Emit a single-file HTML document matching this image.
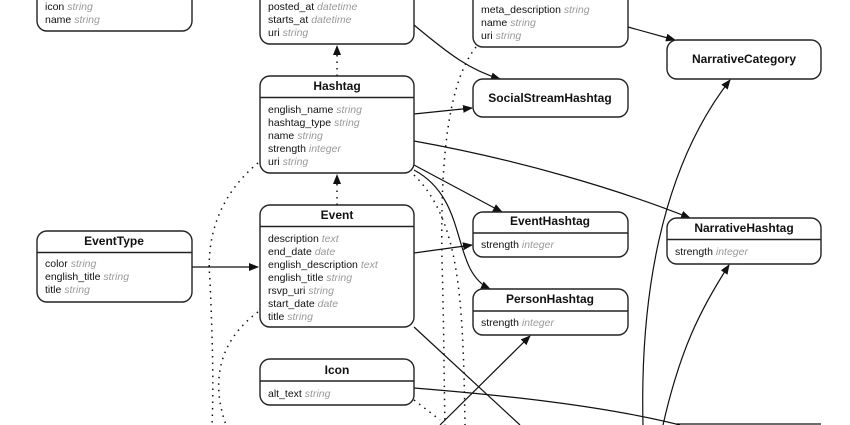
<!DOCTYPE html>
<html><head><style>
html,body{margin:0;background:#fff;width:850px;height:425px;overflow:hidden}
svg{display:block;font-family:"Liberation Sans",sans-serif}
.b{fill:#fff;stroke:#222;stroke-width:1.4}
.t{font-weight:bold;font-size:12px;text-anchor:middle;fill:#111}
.r{font-size:10.5px;fill:#111}
.g{fill:#999;font-style:italic}
.e{fill:none;stroke:#111;stroke-width:1.2}
.d{fill:none;stroke:#111;stroke-width:1.5;stroke-dasharray:1.5 5}
</style></head><body>
<svg width="850" height="425" viewBox="0 0 850 425">
<defs><marker id="a" markerWidth="10" markerHeight="8" refX="9" refY="4" orient="auto" markerUnits="userSpaceOnUse"><path d="M0,0L10,4L0,8z" fill="#111"/></marker></defs>
<path class="d" d="M337,76V46" marker-end="url(#a)"/>
<path class="d" d="M337,205V175" marker-end="url(#a)"/>
<path class="e" d="M192,267H258" marker-end="url(#a)"/>
<path class="e" d="M414,25C450,55 470,70 500,79" marker-end="url(#a)"/>
<path class="e" d="M414,114L472,108" marker-end="url(#a)"/>
<path class="e" d="M628,27L675,40" marker-end="url(#a)"/>
<path class="e" d="M414,141C520,160 620,190 690,218" marker-end="url(#a)"/>
<path class="e" d="M414,165L502,212" marker-end="url(#a)"/>
<path class="e" d="M414,170C470,200 450,270 490,289" marker-end="url(#a)"/>
<path class="e" d="M414,253L472,245" marker-end="url(#a)"/>
<path class="e" d="M414,327L520,425"/>
<path class="e" d="M414,388C500,395 600,405 680,425"/>
<path class="e" d="M440,425L530,336" marker-end="url(#a)"/>
<path class="e" d="M643,425C640,300 660,170 730,80" marker-end="url(#a)"/>
<path class="e" d="M663,425C680,350 700,310 729,265" marker-end="url(#a)"/>
<path class="d" d="M258,163C225,190 205,230 210,280C212,330 214,380 212,425"/>
<path class="d" d="M258,312C220,340 210,380 226,425"/>
<path class="d" d="M476,47C450,80 440,150 442,260C444,330 444,380 445,425"/>
<path class="d" d="M414,175C460,220 463,300 465,425"/>
<path class="d" d="M414,400L440,420"/>
<rect class="b" x="37" y="-20" width="155" height="51" rx="10"/>
<text class="r" x="45" y="10">icon <tspan class="g">string</tspan></text>
<text class="r" x="45" y="23">name <tspan class="g">string</tspan></text>
<rect class="b" x="260" y="-20" width="154" height="64" rx="10"/>
<text class="r" x="268" y="10">posted_at <tspan class="g">datetime</tspan></text>
<text class="r" x="268" y="23">starts_at <tspan class="g">datetime</tspan></text>
<text class="r" x="268" y="36">uri <tspan class="g">string</tspan></text>
<rect class="b" x="473" y="-20" width="155" height="67" rx="10"/>
<text class="r" x="481" y="13">meta_description <tspan class="g">string</tspan></text>
<text class="r" x="481" y="26">name <tspan class="g">string</tspan></text>
<text class="r" x="481" y="39">uri <tspan class="g">string</tspan></text>
<rect class="b" x="667" y="40" width="154" height="39" rx="10"/>
<text class="t" x="744" y="63">NarrativeCategory</text>
<rect class="b" x="473" y="79" width="155" height="38" rx="10"/>
<text class="t" x="550" y="102">SocialStreamHashtag</text>
<rect class="b" x="260" y="76" width="154" height="97" rx="10"/>
<text class="t" x="337" y="90">Hashtag</text><path d="M260,97.5H414" stroke="#222" stroke-width="1.4"/>
<text class="r" x="268" y="113">english_name <tspan class="g">string</tspan></text>
<text class="r" x="268" y="126">hashtag_type <tspan class="g">string</tspan></text>
<text class="r" x="268" y="139">name <tspan class="g">string</tspan></text>
<text class="r" x="268" y="152">strength <tspan class="g">integer</tspan></text>
<text class="r" x="268" y="165">uri <tspan class="g">string</tspan></text>
<rect class="b" x="260" y="205" width="154" height="122" rx="10"/>
<text class="t" x="337" y="219">Event</text><path d="M260,226.5H414" stroke="#222" stroke-width="1.4"/>
<text class="r" x="268" y="242">description <tspan class="g">text</tspan></text>
<text class="r" x="268" y="255">end_date <tspan class="g">date</tspan></text>
<text class="r" x="268" y="268">english_description <tspan class="g">text</tspan></text>
<text class="r" x="268" y="281">english_title <tspan class="g">string</tspan></text>
<text class="r" x="268" y="294">rsvp_uri <tspan class="g">string</tspan></text>
<text class="r" x="268" y="307">start_date <tspan class="g">date</tspan></text>
<text class="r" x="268" y="320">title <tspan class="g">string</tspan></text>
<rect class="b" x="37" y="231" width="155" height="71" rx="10"/>
<text class="t" x="114" y="245">EventType</text><path d="M37,252.5H192" stroke="#222" stroke-width="1.4"/>
<text class="r" x="45" y="267">color <tspan class="g">string</tspan></text>
<text class="r" x="45" y="280">english_title <tspan class="g">string</tspan></text>
<text class="r" x="45" y="293">title <tspan class="g">string</tspan></text>
<rect class="b" x="473" y="212" width="155" height="45" rx="10"/>
<text class="t" x="550" y="225">EventHashtag</text><path d="M473,233H628" stroke="#222" stroke-width="1.4"/>
<text class="r" x="481" y="248">strength <tspan class="g">integer</tspan></text>
<rect class="b" x="667" y="218" width="154" height="46" rx="10"/>
<text class="t" x="744" y="232">NarrativeHashtag</text><path d="M667,239.5H821" stroke="#222" stroke-width="1.4"/>
<text class="r" x="675" y="255">strength <tspan class="g">integer</tspan></text>
<rect class="b" x="473" y="289" width="155" height="46" rx="10"/>
<text class="t" x="550" y="303">PersonHashtag</text><path d="M473,311H628" stroke="#222" stroke-width="1.4"/>
<text class="r" x="481" y="326">strength <tspan class="g">integer</tspan></text>
<rect class="b" x="260" y="359" width="154" height="46" rx="10"/>
<text class="t" x="337" y="374">Icon</text><path d="M260,381H414" stroke="#222" stroke-width="1.4"/>
<text class="r" x="268" y="397">alt_text <tspan class="g">string</tspan></text>
<path class="e" d="M677,425V424H821"/>
</svg>
</body></html>
